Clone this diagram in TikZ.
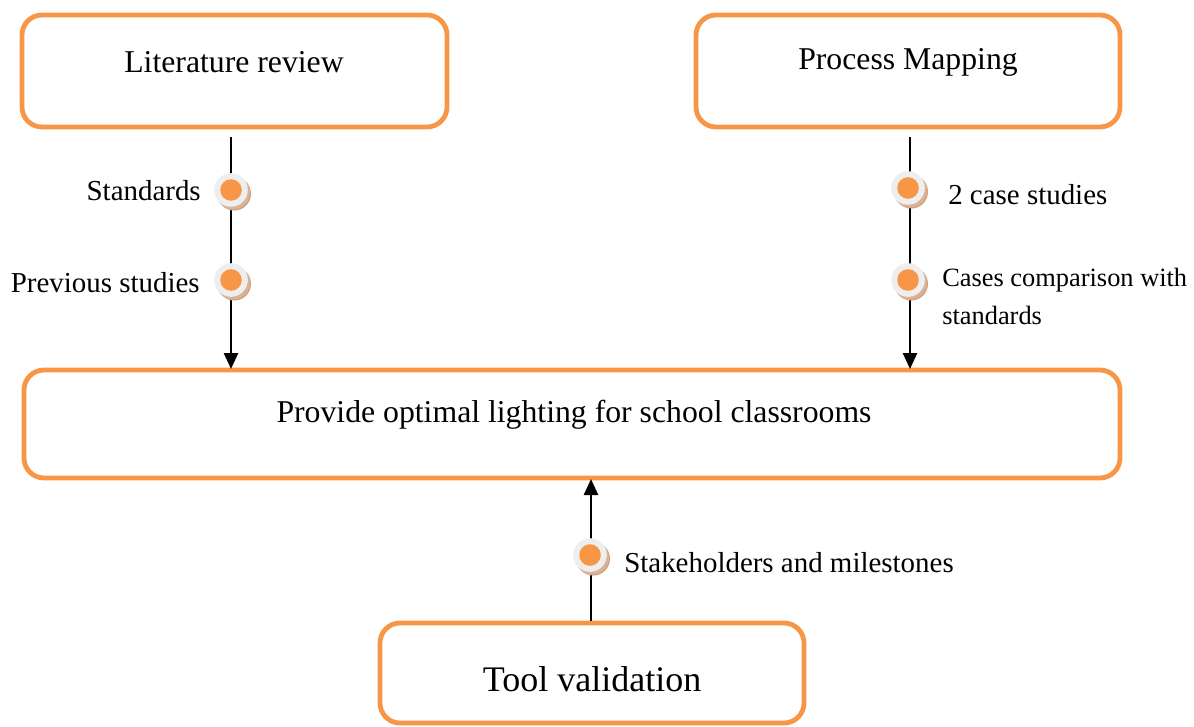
\documentclass[tikz,border=0pt]{standalone}
\usepackage{fontspec}
\setmainfont{Liberation Serif}
\usetikzlibrary{arrows.meta}
\definecolor{borange}{HTML}{F79646}
\definecolor{ringgray}{HTML}{EEEEEE}
\definecolor{shadowtan}{HTML}{CFA07E}
\tikzset{
  box/.style={draw=borange, line width=3.6pt, rounded corners=15pt, fill=white},
  conn/.style={line width=1.9pt, -{Triangle[length=12pt,width=10.5pt]}},
  boxtext/.style={font=\fontsize{23.8}{28}\selectfont, inner sep=0pt},
  lbl/.style={font=\fontsize{21.7}{26}\selectfont, inner sep=0pt},
  lblsmall/.style={font=\fontsize{19.8}{26}\selectfont, inner sep=0pt, align=left},
  bullet/.pic={
    \fill[shadowtan] (2.4pt,-2.8pt) circle (12.6pt);
    \fill[white] (1pt,-1.1pt) circle (12.6pt);
    \fill[shadowtan!80] (1.7pt,-2pt) circle (12.6pt);
    \fill[ringgray] (0,0) circle (12.6pt);
    \fill[borange] (0,0) circle (8.1pt);
  }
}
\begin{document}
\begin{tikzpicture}[x=0.75pt,y=-0.75pt]
\useasboundingbox (0,0) rectangle (1194,727);
% boxes
\node[box, minimum width=425*0.75pt, minimum height=112*0.75pt] (lit) at (234.5,71) {};
\node[box, minimum width=424*0.75pt, minimum height=112*0.75pt] (proc) at (908,71) {};
\node[box, minimum width=1096*0.75pt, minimum height=108*0.75pt] (goal) at (572,424) {};
\node[box, minimum width=424*0.75pt, minimum height=100*0.75pt] (tool) at (592,673) {};
% box texts
\node[boxtext] (littext) at (234,62) {Literature review};
\node[boxtext] (proctext) at (908,62) {Process Mapping};
\node[boxtext] (goaltext) at (574,415) {Provide optimal lighting for school classrooms};
\node[boxtext, font=\fontsize{27}{32}\selectfont] (tooltext) at (592,679) {Tool validation};
% connector anchor points
\coordinate (l1) at (231,137);
\coordinate (l2) at (231,369);
\coordinate (r1) at (910,137);
\coordinate (r2) at (910,369);
\coordinate (b1) at (591,621);
\coordinate (b2) at (591,479);
\draw[conn] (l1) -- (l2);
\draw[conn] (r1) -- (r2);
\draw[conn] (b1) -- (b2);
% bullets
\pic at (231,190) {bullet};
\pic at (231,280) {bullet};
\pic at (908,188) {bullet};
\pic at (908,280) {bullet};
\pic at (590,555) {bullet};
% labels
\node[lbl, anchor=east] (std) at (201,191) {Standards};
\node[lbl, anchor=east] (prev) at (200,283) {Previous studies};
\node[lbl, anchor=west] (cases) at (948,195) {2 case studies};
\node[lblsmall, anchor=west] (comp1) at (942,280) {Cases comparison with};
\node[lblsmall, anchor=west] (comp2) at (942,315) {standards};
\node[lbl, anchor=west] (stake) at (624,563) {Stakeholders and milestones};
\end{tikzpicture}
\end{document}
